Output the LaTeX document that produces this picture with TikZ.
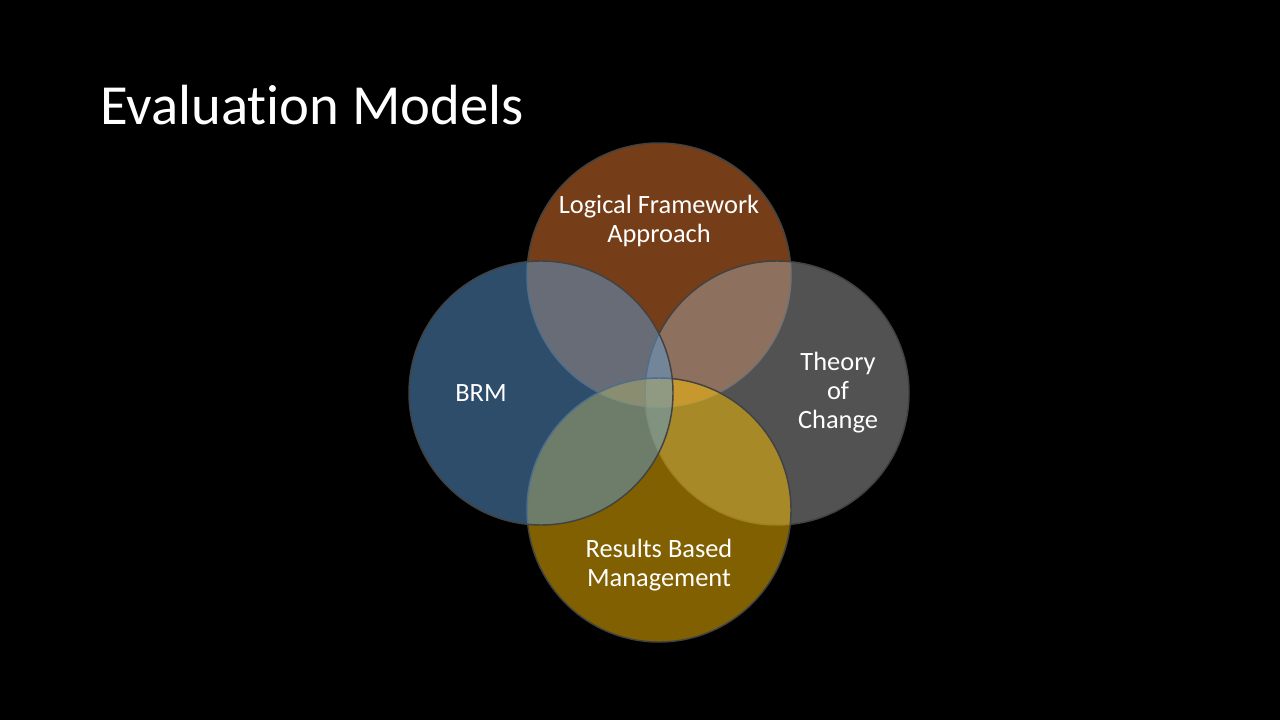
\documentclass[tikz,border=0pt]{standalone}
\usepackage{fontspec}
\setmainfont{Carlito}[Ligatures=NoCommon]
\usetikzlibrary{calc}
\definecolor{lfaorange}{HTML}{ED7D31}
\definecolor{brmblue}{HTML}{5B9BD5}
\definecolor{tocgray}{HTML}{A5A5A5}
\definecolor{rbmgold}{HTML}{FFC000}
\definecolor{rimgray}{HTML}{424242}
\tikzstyle{model} = [draw=rimgray, line width=1.1pt, fill opacity=.5, shape=circle, minimum size=198pt, inner sep=0pt]
\tikzstyle{modeltext} = [text=white, align=center, inner sep=0pt, font=\fontsize{19.8}{21.8}\selectfont]

\begin{document}
\begin{tikzpicture}[x=.75pt,y=-.75pt]
    \fill[black] (0,0) rectangle (1280,720);
    \node[anchor=base west, inner sep=0pt, text=white, font=\fontsize{42.5}{51}\selectfont] (title) at (100,125) {Evaluation Models};
    % circles, in the order they overlap
    \draw (659,275) node[model, fill=lfaorange] (lfa) {};
    \draw (777,393) node[model, fill=tocgray] (toc) {};
    \draw (659,510) node[model, fill=rbmgold] (rbm) {};
    \draw (541,393) node[model, fill=brmblue] (brm) {};
    \node[modeltext] (lfatext) at ($(lfa)+(0,-54)$) {Logical Framework\\Approach};
    \node[modeltext] (toctext) at ($(toc)+(61,0)$) {Theory\\of\\Change};
    \node[modeltext] (rbmtext) at ($(rbm)+(0,55)$) {Results Based\\Management};
    \node[modeltext] (brmtext) at ($(brm)+(-60,0)$) {BRM};
\end{tikzpicture}
\end{document}
